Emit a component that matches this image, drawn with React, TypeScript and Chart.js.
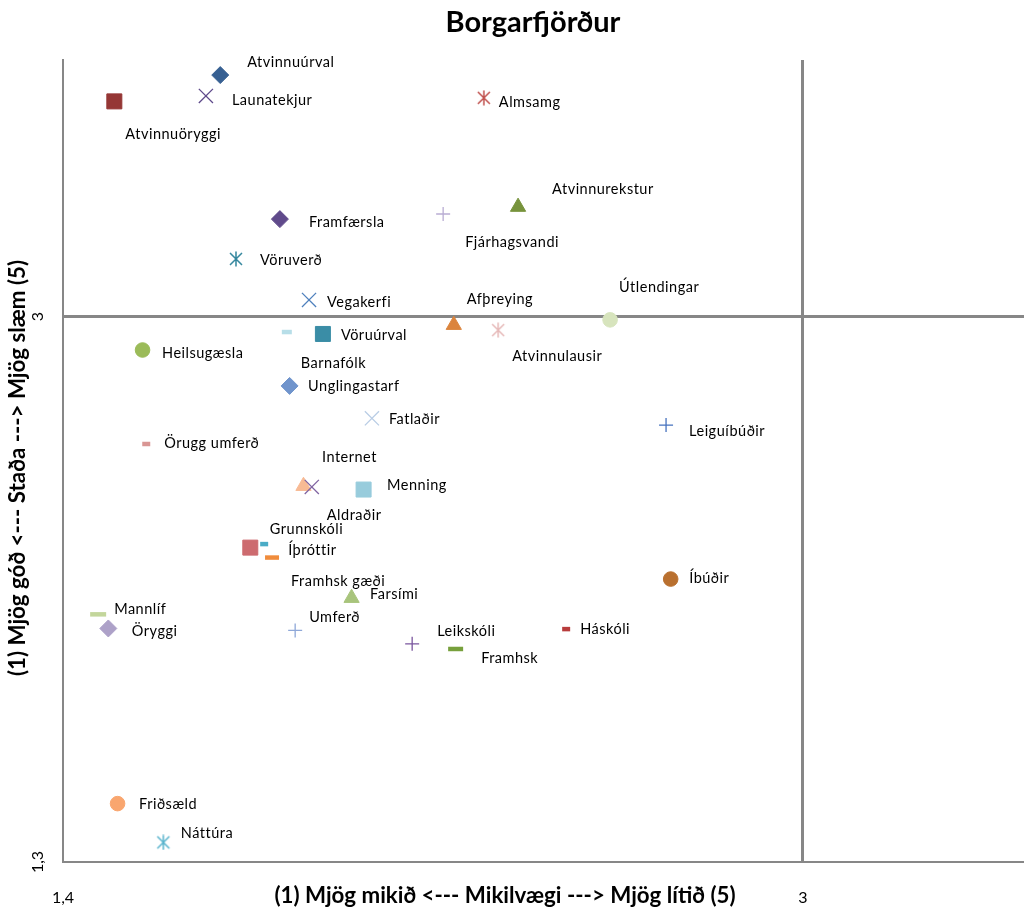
import React, { useEffect, useRef } from "react";
import { Chart, registerables } from "chart.js";

Chart.register(...registerables);

const names = [
  "Atvinnuúrval", "Launatekjur", "Atvinnuöryggi", "Almsamg", "Atvinnurekstur",
  "Framfærsla", "Fjárhagsvandi", "Vöruverð", "Vegakerfi", "Afþreying",
  "Atvinnulausir", "Útlendingar", "Vöruúrval", "Barnafólk", "Heilsugæsla",
  "Unglingastarf", "Fatlaðir", "Leiguíbúðir", "Örugg umferð", "Internet",
  "Aldraðir", "Menning", "Grunnskóli", "Íþróttir", "Framhsk gæði",
  "Farsími", "Íbúðir", "Mannlíf", "Öryggi", "Umferð",
  "Leikskóli", "Framhsk", "Háskóli", "Friðsæld", "Náttúra",
];

// Mikilvægi (x)
const importance = [
  1.740, 1.709, 1.511, 2.310, 2.384,
  1.869, 2.222, 1.774, 1.932, 2.245,
  2.341, 2.583, 1.962, 1.884, 1.572,
  1.890, 2.068, 2.704, 1.580, 1.920,
  1.938, 2.050, 1.805, 1.835, 1.852,
  2.024, 2.714, 1.476, 1.498, 1.902,
  2.155, 2.249, 2.488, 1.518, 1.617,
];

// Staða (y)
const status = [
  3.753, 3.688, 3.671, 3.682, 3.342,
  3.304, 3.320, 3.180, 3.052, 2.974,
  2.958, 2.990, 2.946, 2.952, 2.896,
  2.784, 2.683, 2.662, 2.603, 2.472,
  2.469, 2.461, 2.280, 2.291, 2.249,
  2.123, 2.182, 2.072, 2.028, 2.022,
  1.980, 1.964, 2.026, 1.482, 1.361,
];

const xTickValues = [1.4, 3];
const yTickValues = [1.3, 3];

const chartTitle = "Borgarfjörður";
const xTitle = "(1) Mjög mikið <--- Mikilvægi ---> Mjög lítið (5)";
const yTitle = "(1) Mjög góð <--- Staða ---> Mjög slæm (5)";

// marker styling (kept apart from the data)
const markerShape = [
  "diamond", "x", "square", "star", "triangle",
  "diamond", "plus", "star", "x", "triangle",
  "star", "circle", "square", "dash", "circle",
  "diamond", "x", "plus", "dash", "triangle",
  "x", "square", "square", "dash", "dash",
  "triangle", "circle", "dash", "diamond", "plus",
  "plus", "dash", "dash", "circle", "star",
];
const markerColor = [
  "#376092", "#5F4A8B", "#953735", "#C0504D", "#77933C",
  "#604A8B", "#B9ADD3", "#31859C", "#4F81BD", "#DB843D",
  "#E6B9B8", "#D7E4BD", "#3A8DA6", "#B7DEE8", "#9BBB59",
  "#7094CC", "#B9CDE5", "#4672BE", "#D99694", "#F8BA94",
  "#8064A2", "#98CCDC", "#CD6B6F", "#4BACC6", "#F08C3C",
  "#A8C47C", "#B9702F", "#C3D69B", "#ADA1C8", "#8FA8D8",
  "#7A569E", "#77A03C", "#B83C3C", "#F9A66F", "#5AB4CD",
];
const dashHalfLength = [
  0, 0, 0, 0, 0, 0, 0, 0, 0, 0, 0, 0, 0, 5, 0, 0, 0, 0, 4, 0,
  0, 0, 0, 4, 7, 0, 0, 8, 0, 0, 0, 7.5, 4, 0, 0,
];
const labelOffset: [number, number][] = [
  [27, -13], [26, 4], [11, 33], [15, 4], [34, -18],
  [29, 3], [22, 28], [24, 1], [18, 2], [13, -26],
  [14, 26], [9, -33], [18, 1], [14, 31], [19.5, 3],
  [18.5, 0], [17, 0.5], [23, 6], [18, -1], [18.5, -29],
  [15, 28], [23.5, -4.5], [19.5, -18.5], [24, 6], [19, 23.5],
  [18.5, -4], [18.5, -1], [16, -5.5], [23.5, 2.5], [14, -13],
  [25, -13], [25.5, 9], [14, 0], [21.5, 0.5], [17.5, -9],
];

const FONT = "Lato, 'Open Sans', sans-serif";

function makeStar(color: string): HTMLCanvasElement {
  const c = document.createElement("canvas");
  c.width = 16;
  c.height = 16;
  const g = c.getContext("2d")!;
  g.strokeStyle = color;
  g.lineWidth = 1.5;
  g.beginPath();
  g.moveTo(2, 2); g.lineTo(14, 14);
  g.moveTo(14, 2); g.lineTo(2, 14);
  g.moveTo(8, 0.5); g.lineTo(8, 15.5);
  g.stroke();
  return c;
}

const fmt = (v: number) => String(v).replace(".", ",");

export default function App() {
  const ref = useRef<HTMLCanvasElement>(null);

  useEffect(() => {
    if (!ref.current) return;

    const styles = markerShape.map((s, i) => {
      switch (s) {
        case "diamond": return "rectRot";
        case "square": return "rect";
        case "circle": return "circle";
        case "triangle": return "triangle";
        case "x": return "crossRot";
        case "plus": return "cross";
        case "dash": return "line";
        default: return makeStar(markerColor[i]);
      }
    });
    const radii = markerShape.map((s, i) => {
      switch (s) {
        case "diamond": return 8.5;
        case "square": return 10.6;
        case "circle": return 7.3;
        case "triangle": return 8.8;
        case "x": return 10;
        case "plus": return 7;
        case "dash": return dashHalfLength[i];
        default: return 8;
      }
    });
    const widths = markerShape.map((s) => {
      if (s === "dash") return 4.5;
      if (s === "x" || s === "plus") return 1.3;
      return 1;
    });

    const labelPlugin = {
      id: "pointLabels",
      afterDatasetsDraw(chart: any) {
        const ctx = chart.ctx;
        const meta = chart.getDatasetMeta(0);
        ctx.save();
        ctx.font = `14.5px ${FONT}`;
        (ctx as any).letterSpacing = "0.5px";
        ctx.fillStyle = "#000";
        ctx.textAlign = "left";
        ctx.textBaseline = "middle";
        meta.data.forEach((el: any, i: number) => {
          const [dx, dy] = labelOffset[i];
          ctx.fillText(names[i], el.x + dx, el.y + dy);
        });
        ctx.restore();
      },
    };

    const titlesPlugin = {
      id: "titles",
      afterDraw(chart: any) {
        const ctx = chart.ctx;
        ctx.save();
        ctx.fillStyle = "#000";
        ctx.textAlign = "center";
        ctx.textBaseline = "alphabetic";
        ctx.font = `bold 29px ${FONT}`;
        ctx.fillText(chartTitle, 533, 32);
        ctx.textBaseline = "middle";
        ctx.font = `bold 22.3px ${FONT}`;
        ctx.fillText(xTitle, 505, 896);
        ctx.translate(18, 468);
        ctx.rotate(-Math.PI / 2);
        ctx.fillText(yTitle, 0, 0);
        ctx.restore();
      },
    };

    const gridColor = (c: any) => (c.tick && c.tick.value === 3 ? "#878787" : "rgba(0,0,0,0)");
    const gridWidth = (c: any) => (c.tick && c.tick.value === 3 ? 3 : 1);

    const chart = new Chart(ref.current, {
      type: "scatter",
      data: {
        datasets: [
          {
            data: importance.map((x, i) => ({ x, y: status[i] })),
            pointStyle: styles as any,
            pointRadius: radii,
            pointHoverRadius: radii,
            pointBackgroundColor: markerColor,
            pointBorderColor: markerColor,
            pointBorderWidth: widths,
            showLine: false,
            clip: false as any,
          },
        ],
      },
      options: {
        responsive: false,
        maintainAspectRatio: false,
        devicePixelRatio: 1,
        animation: false,
        events: [],
        layout: { autoPadding: false, padding: { top: 60, left: 0, right: 0, bottom: 0 } },
        plugins: {
          legend: { display: false },
          tooltip: { enabled: false },
          title: { display: false },
        },
        scales: {
          x: {
            type: "linear",
            position: "bottom",
            min: 1.4,
            max: 3.478,
            afterBuildTicks: (s: any) => {
              s.ticks = xTickValues.map((value) => ({ value }));
            },
            afterFit: (s: any) => {
              s.height = 45;
              s.paddingLeft = 0;
              s.paddingRight = 0;
            },
            grid: { color: gridColor, lineWidth: gridWidth, drawTicks: false },
            border: { display: true, color: "#878787", width: 2 },
            ticks: {
              padding: 26,
              autoSkip: false,
              maxRotation: 0,
              color: "#000",
              font: { family: FONT, size: 16 },
              callback: (v: any) => fmt(Number(v)),
            },
          },
          y: {
            type: "linear",
            position: "left",
            min: 1.3,
            max: 3.8,
            afterBuildTicks: (s: any) => {
              s.ticks = yTickValues.map((value) => ({ value }));
            },
            afterFit: (s: any) => {
              s.width = 63;
              s.paddingTop = 0;
              s.paddingBottom = 0;
            },
            grid: { color: gridColor, lineWidth: gridWidth, drawTicks: false },
            border: { display: true, color: "#878787", width: 2 },
            ticks: {
              padding: 14,
              autoSkip: false,
              minRotation: 90,
              maxRotation: 90,
              crossAlign: "center",
              color: "#000",
              font: { family: FONT, size: 16 },
              callback: (v: any) => fmt(Number(v)),
            },
          },
        },
      },
      plugins: [labelPlugin, titlesPlugin],
    });

    return () => chart.destroy();
  }, []);

  return (
    <div
      style={{
        position: "fixed",
        left: 0,
        top: 0,
        width: 1024,
        height: 907,
        background: "#fff",
        overflow: "hidden",
      }}
    >
      <canvas ref={ref} width={1024} height={907} style={{ display: "block" }} />
    </div>
  );
}
